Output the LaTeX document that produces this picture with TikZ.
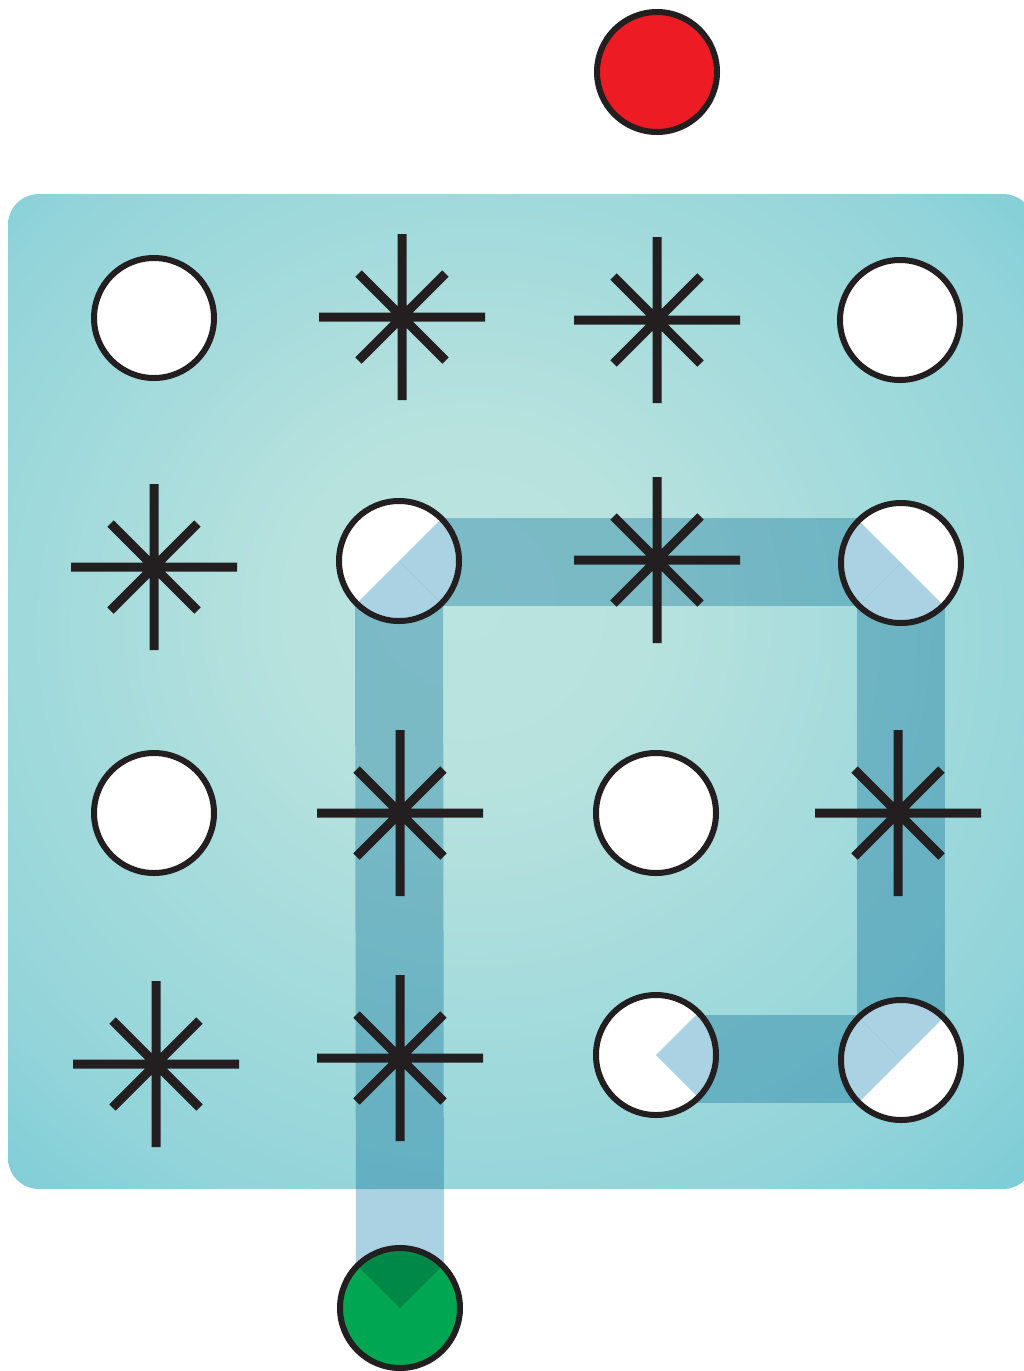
\documentclass[tikz,border=0pt]{standalone}
\usetikzlibrary{positioning,backgrounds}
\definecolor{ink}{RGB}{35,31,32}
\definecolor{bandblue}{RGB}{170,210,227}
\definecolor{bgin}{RGB}{186,228,223}
\definecolor{bgcore}{RGB}{183,226,222}
\definecolor{bgmid}{RGB}{146,212,218}
\definecolor{bgedge}{RGB}{122,203,214}
\definecolor{bgout}{RGB}{94,186,198}
\definecolor{stopred}{RGB}{237,28,36}
\definecolor{gogreen}{RGB}{0,166,81}
\pgfdeclareradialshading{boardshade}{\pgfpoint{-3bp}{5bp}}{color(0bp)=(bgin); color(9bp)=(bgcore); color(30bp)=(bgmid); color(38bp)=(bgedge); color(56bp)=(bgout)}

\begin{document}
\begin{tikzpicture}[x=1pt, y=-1pt,
    dot/.style={circle, draw=ink, line width=6pt, fill=white, minimum size=120pt, inner sep=0pt},
    band/.style={draw=bandblue, line width=88pt, line cap=butt, blend mode=multiply},
    wedge/.style={fill=bandblue, blend mode=multiply},
    spoke/.style={draw=ink, line width=9pt},
]
\useasboundingbox (0,0) rectangle (1024,1371);
\clip (0,0) rectangle (1024,1371);
% start and goal
\node[dot, fill=stopred] (stop) at (657,72) {};
\node[dot, fill=gogreen] (go) at (400,1308) {};
% open cells
\node[dot] (c11) at (154,318) {};
\node[dot] (c14) at (900,320) {};
\node[dot] (c22) at (399,561) {};
\node[dot] (c24) at (901,563) {};
\node[dot] (c31) at (154,813) {};
\node[dot] (c33) at (656,813) {};
\node[dot] (c43) at (656,1055) {};
\node[dot] (c44) at (901,1060) {};
% blocked cells
\coordinate (s12) at (402,317);
\coordinate (s13) at (657,320);
\coordinate (s21) at (154,567);
\coordinate (s23) at (657,560);
\coordinate (s32) at (400,813);
\coordinate (s34) at (898,813);
\coordinate (s41) at (156,1064);
\coordinate (s42) at (400,1058);
\begin{scope}[on background layer]
    \shade[shading=boardshade, rounded corners=31pt] (8,194) rectangle (1034,1189);
    \draw[band] (go.center) -- (399,562);
    \draw[band] (399,562) -- (901,562);
    \draw[band] (901,562) -- (901,1059);
    \draw[band] (901,1059) -- (656,1059);
\end{scope}
% path tips inside the circles
\foreach \c/\dx/\dy in {c22/1/0, c22/0/1, c24/-1/0, c24/0/1, c44/0/-1, c44/-1/0, c43/1/0, go/0/-1} {
    \begin{scope}
        \clip (\c.center) circle (57);
        \fill[wedge] (\c.center) -- +({100*(\dx-\dy)},{100*(\dy+\dx)})
            -- +({100*(\dx+\dy)},{100*(\dy-\dx)}) -- cycle;
    \end{scope}
}
\foreach \s in {s12,s13,s21,s23,s32,s34,s41,s42} {
    \draw[spoke] (\s) +(0,-83) -- +(0,83) +(-83,0) -- +(83,0)
        +(-43.5,-43.5) -- +(43.5,43.5) +(-43.5,43.5) -- +(43.5,-43.5);
}
\end{tikzpicture}
\end{document}
